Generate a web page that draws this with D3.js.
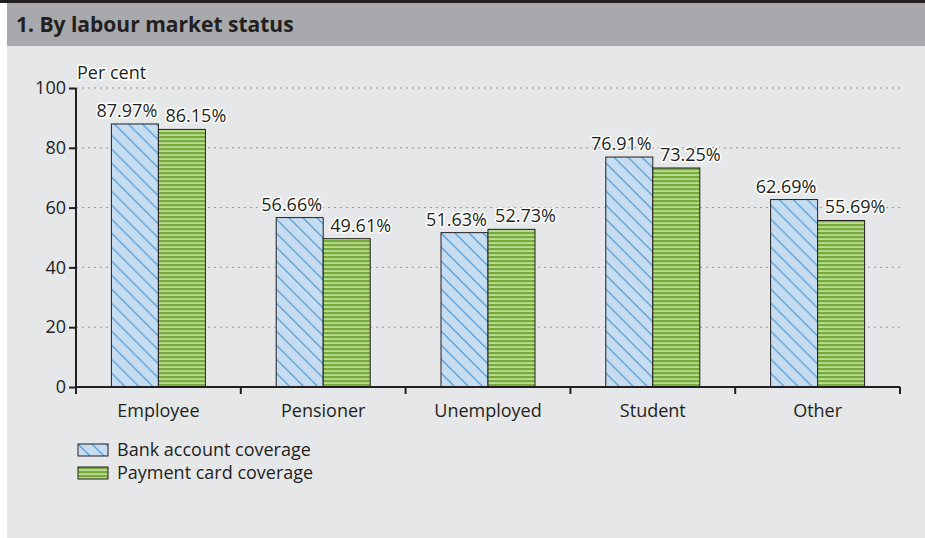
<!DOCTYPE html>
<html>
<head>
<meta charset="utf-8">
<script src="https://cdn.jsdelivr.net/npm/d3@7"></script>
<style>
  body { margin: 0; background: #fff; }
  svg text { font-family: "Open Sans", sans-serif; fill: #231f20; }
</style>
</head>
<body>
<svg id="chart" width="925" height="538"></svg>
<script>
var categories = ['Employee', 'Pensioner', 'Unemployed', 'Student', 'Other'];
var seriesNames = ['Bank account coverage', 'Payment card coverage'];
var bankValues = [87.97, 56.66, 51.63, 76.91, 62.69];
var cardValues = [86.15, 49.61, 52.73, 73.25, 55.69];
var yTicks = [0, 20, 40, 60, 80, 100];

var svg = d3.select('#chart');

// panel background + header
svg.append('rect').attr('x', 0).attr('y', 0).attr('width', 925).attr('height', 538).attr('fill', '#ffffff');
svg.append('rect').attr('x', 7).attr('y', 2).attr('width', 918).attr('height', 536).attr('fill', '#e6e7e8');
svg.append('rect').attr('x', 7).attr('y', 2).attr('width', 918).attr('height', 44).attr('fill', '#a7a9ac');
svg.append('rect').attr('x', 0).attr('y', 0).attr('width', 925).attr('height', 3).attr('fill', '#231f20');
svg.append('text').attr('x', 16).attr('y', 32)
  .style('font-size', '21px').style('font-weight', 'bold')
  .text('1. By labour market status');

// patterns
var defs = svg.append('defs');
var pb = defs.append('pattern').attr('id', 'pat_bank')
  .attr('patternUnits', 'userSpaceOnUse').attr('width', 14).attr('height', 14);
pb.append('rect').attr('width', 14).attr('height', 14).attr('fill', '#c5dcf1');
pb.append('path').attr('d', 'M-1,-1 L15,15 M-1,13 L1,15 M13,-1 L15,1')
  .attr('stroke', '#5a9fd6').attr('stroke-width', 1.3);

var pc = defs.append('pattern').attr('id', 'pat_card')
  .attr('patternUnits', 'userSpaceOnUse').attr('width', 4).attr('height', 4);
pc.append('rect').attr('width', 4).attr('height', 4).attr('fill', '#bcdc96');
pc.append('rect').attr('y', 0).attr('width', 4).attr('height', 2.2).attr('fill', '#77ab3c');

var x = d3.scaleBand().domain(categories).range([76, 900]).paddingInner(0).paddingOuter(0);
var y = d3.scaleLinear().domain([0, 100]).range([387, 88]);
var barW = 47;

// gridlines
svg.append('g').selectAll('line').data(yTicks.filter(function(d){ return d > 0; }))
  .enter().append('line')
  .attr('x1', 76).attr('x2', 900)
  .attr('y1', function(d){ return y(d); }).attr('y2', function(d){ return y(d); })
  .attr('stroke', '#939598').attr('stroke-width', 1).attr('stroke-dasharray', '2,4');

// bars
var groups = svg.append('g').selectAll('g').data(categories).enter().append('g')
  .attr('transform', function(d){ return 'translate(' + (x(d) + x.bandwidth() / 2) + ',0)'; });

groups.append('rect')
  .attr('x', -barW).attr('width', barW)
  .attr('y', function(d, i){ return y(bankValues[i]); })
  .attr('height', function(d, i){ return y(0) - y(bankValues[i]); })
  .attr('fill', 'url(#pat_bank)').attr('stroke', '#231f20').attr('stroke-width', 1);

groups.append('rect')
  .attr('x', 0).attr('width', barW)
  .attr('y', function(d, i){ return y(cardValues[i]); })
  .attr('height', function(d, i){ return y(0) - y(cardValues[i]); })
  .attr('fill', 'url(#pat_card)').attr('stroke', '#231f20').attr('stroke-width', 1);

// value labels with white halo
function addLabels(vals, dx) {
  groups.append('text')
    .attr('x', dx)
    .attr('y', function(d, i){ return y(vals[i]) - 7; })
    .attr('text-anchor', 'middle')
    .style('font-size', '18px')
    .attr('stroke', '#ffffff').attr('stroke-width', 3).attr('paint-order', 'stroke')
    .attr('stroke-linejoin', 'round')
    .text(function(d, i){ return vals[i].toFixed(2) + '%'; });
}
addLabels(bankValues, -barW / 2 - 8);
addLabels(cardValues, barW / 2 + 14);

// axes
var yAxis = d3.axisLeft(y).tickValues(yTicks).tickSize(7).tickPadding(3);
var gy = svg.append('g').attr('transform', 'translate(76,0)').call(yAxis);
gy.select('.domain').attr('stroke', '#231f20').attr('stroke-width', 2).attr('d', 'M0,' + y(100) + 'V' + y(0));
gy.selectAll('.tick line').attr('stroke', '#231f20').attr('stroke-width', 2);
gy.selectAll('.tick text').style('font-size', '18px').attr('fill', '#231f20');

var xAxis = d3.axisBottom(x).tickSize(0).tickPadding(17);
var gx = svg.append('g').attr('transform', 'translate(0,' + y(0) + ')').call(xAxis);
gx.select('.domain').attr('stroke', '#231f20').attr('stroke-width', 2).attr('d', 'M76,0H900');
gx.selectAll('.tick text').style('font-size', '18px').attr('fill', '#231f20');
gx.selectAll('.boundary').data(d3.range(categories.length + 1)).enter().append('line')
  .attr('x1', function(i){ return 76 + i * x.bandwidth(); })
  .attr('x2', function(i){ return 76 + i * x.bandwidth(); })
  .attr('y1', 0).attr('y2', 7)
  .attr('stroke', '#231f20').attr('stroke-width', 2);

svg.append('text').attr('x', 77).attr('y', 79).style('font-size', '18px')
  .attr('stroke', '#ffffff').attr('stroke-width', 3).attr('paint-order', 'stroke')
  .text('Per cent');

// legend
var legend = svg.append('g').selectAll('g').data(seriesNames).enter().append('g')
  .attr('transform', function(d, i){ return 'translate(78,' + (444 + i * 23) + ')'; });
legend.append('rect').attr('width', 30).attr('height', 12)
  .attr('fill', function(d, i){ return i === 0 ? 'url(#pat_bank)' : 'url(#pat_card)'; })
  .attr('stroke', '#231f20').attr('stroke-width', 1);
legend.append('text').attr('x', 39).attr('y', 12).style('font-size', '18px')
  .text(function(d){ return d; });
</script>
</body>
</html>
